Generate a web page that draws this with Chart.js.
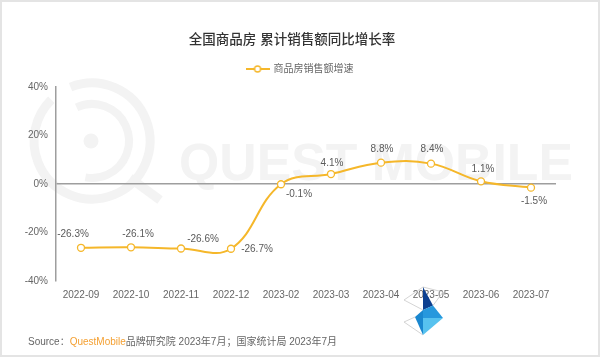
<!DOCTYPE html>
<html><head><meta charset="utf-8">
<script src="https://cdn.jsdelivr.net/npm/chart.js@4.4.0/dist/chart.umd.min.js"></script>
<style>html,body{margin:0;padding:0;background:#fff;}#wrap{width:600px;height:357px;position:relative;}</style>
</head><body><div id="wrap"><canvas id="c" width="600" height="357"></canvas></div>
<script>
const titleText = '全国商品房 累计销售额同比增长率';
const seriesName = '商品房销售额增速';
const categories = ['2022-09','2022-10','2022-11','2022-12','2023-02','2023-03','2023-04','2023-05','2023-06','2023-07'];
const growth = [-26.3, -26.1, -26.6, -26.7, -0.1, 4.1, 8.8, 8.4, 1.1, -1.5];
const yTicks = [-40, -20, 0, 20, 40];
const sourcePrefix = 'Source：';
const sourceBrand = 'QuestMobile';
const sourceRest = '品牌研究院 2023年7月；国家统计局 2023年7月';
const watermarkText = 'QUEST MOBILE';

const lineColor = '#F5B72A';
const FONT = '"Liberation Sans", "Noto Sans CJK SC", sans-serif';

// legend marker: line with hollow circle
const mk = document.createElement('canvas');
mk.width = 24; mk.height = 10;
(function(){
  const m = mk.getContext('2d');
  m.strokeStyle = lineColor; m.lineWidth = 2;
  m.beginPath(); m.moveTo(0,5); m.lineTo(24,5); m.stroke();
  m.beginPath(); m.arc(12,5,3,0,Math.PI*2); m.fillStyle='#fff'; m.fill();
  m.lineWidth = 1.4; m.stroke();
})();

const decor = {
  id: 'decor',
  beforeDraw(chart) {
    const ctx = chart.ctx;
    ctx.save();
    ctx.fillStyle = '#fff';
    ctx.fillRect(0, 0, chart.width, chart.height);
    // watermark
    const wm = '#f3f3f3';
    ctx.strokeStyle = wm; ctx.fillStyle = wm;
    ctx.lineWidth = 9;
    ctx.beginPath(); ctx.arc(92, 141, 58, -1.95, -2.35 + Math.PI*2); ctx.stroke();
    ctx.lineWidth = 8;
    ctx.beginPath(); ctx.arc(92, 141, 37, -2.0, 1.75); ctx.stroke();
    ctx.lineWidth = 9;
    ctx.beginPath(); ctx.moveTo(130, 178); ctx.lineTo(160, 200); ctx.stroke();
    ctx.beginPath(); ctx.arc(91, 141, 7.5, 0, Math.PI*2); ctx.fill();
    ctx.font = 'bold 52px "Liberation Sans", sans-serif';
    ctx.textBaseline = 'alphabetic';
    const w = ctx.measureText(watermarkText).width;
    ctx.translate(179, 180);
    ctx.scale(394 / w, 1);
    ctx.fillText(watermarkText, 0, 0);
    ctx.restore();
  },
  afterLayout(chart) {
    const tb = chart.titleBlock;
    if (tb) { tb.left += 6; tb.right += 6; }
    const lg = chart.legend;
    if (lg) { lg.left += 14; lg.right += 14; lg.top -= 3; lg.bottom -= 3; }
  },
  afterDatasetsDraw(chart, args, opts) {
    const ctx = chart.ctx;
    const meta = chart.getDatasetMeta(0);
    ctx.save();
    ctx.font = '10px ' + FONT;
    ctx.fillStyle = '#5a5a5a';
    ctx.textAlign = 'center';
    ctx.textBaseline = 'middle';
    meta.data.forEach((pt, i) => {
      const off = opts.labelOffsets[i] || [0, -13];
      ctx.fillText(growth[i].toFixed(1) + '%', pt.x + off[0], pt.y + off[1]);
    });
    ctx.restore();
  },
  afterDraw(chart) {
    const ctx = chart.ctx;
    ctx.save();
    // logo
    const poly = (pts, col) => { ctx.beginPath(); ctx.moveTo(pts[0][0], pts[0][1]); for (let k=1;k<pts.length;k++) ctx.lineTo(pts[k][0], pts[k][1]); ctx.closePath(); ctx.fillStyle = col; ctx.fill(); };
    ctx.strokeStyle = '#c9c9c9'; ctx.lineWidth = 0.8;
    ctx.beginPath();
    ctx.moveTo(423,287); ctx.lineTo(404,300); ctx.lineTo(423,310);
    ctx.moveTo(423,287); ctx.lineTo(443,292); ctx.lineTo(433,305.5);
    ctx.moveTo(415,317); ctx.lineTo(404,322); ctx.lineTo(423,335);
    ctx.stroke();
    poly([[423,287],[423,310],[433,305.5]], '#0c3f8f');
    poly([[415,317],[423,310],[423,335]], '#1a87cf');
    poly([[423,310],[433,305.5],[443,318],[423,318]], '#2798dd');
    poly([[423,318],[443,318],[423,335]], '#57c2ef');
    // source
    ctx.font = '10px ' + FONT;
    ctx.textBaseline = 'middle';
    ctx.textAlign = 'left';
    let x = 28; const y = 342;
    ctx.fillStyle = '#666';
    ctx.fillText(sourcePrefix, x, y); x += ctx.measureText(sourcePrefix).width;
    ctx.fillStyle = '#F4A032';
    ctx.fillText(sourceBrand, x, y); x += ctx.measureText(sourceBrand).width;
    ctx.fillStyle = '#666';
    ctx.fillText(sourceRest, x, y);
    // frame
    ctx.strokeStyle = '#e4e4e4'; ctx.lineWidth = 2;
    ctx.strokeRect(1, 1, chart.width - 2, chart.height - 2);
    ctx.restore();
  }
};

new Chart(document.getElementById('c'), {
  type: 'line',
  data: {
    labels: categories,
    datasets: [{
      label: seriesName,
      data: growth,
      borderColor: lineColor,
      backgroundColor: lineColor,
      borderWidth: 2,
      tension: 0.4,
      pointRadius: 3.5,
      pointBorderWidth: 1.3,
      pointBackgroundColor: '#fff',
      pointBorderColor: lineColor,
      clip: false
    }]
  },
  options: {
    responsive: false,
    devicePixelRatio: 1,
    animation: false,
    layout: { padding: { left: 16, right: 44, top: 0, bottom: 48 } },
    plugins: {
      title: {
        display: true, text: titleText, color: '#333',
        font: { size: 13.5, weight: '500', family: FONT },
        padding: { top: 32, bottom: 8.8 }
      },
      legend: {
        display: true,
        labels: {
          usePointStyle: true, pointStyleWidth: 22, padding: 10,
          color: '#666', font: { size: 10, family: FONT },
          generateLabels: (chart) => {
            const items = Chart.defaults.plugins.legend.labels.generateLabels(chart);
            items.forEach(it => { it.pointStyle = mk; });
            return items;
          }
        }
      },
      tooltip: { enabled: false },
      decor: {
        labelOffsets: [[-8,-14],[7,-13],[22,-9],[26,1],[18,10],[1,-11],[1,-13],[1,-14],[2,-12],[3,14]]
      }
    },
    scales: {
      x: {
        offset: true,
        grid: { display: false, drawTicks: false },
        border: { display: false },
        ticks: { color: '#666', font: { size: 10, family: FONT }, padding: 8, maxRotation: 0, autoSkip: false }
      },
      y: {
        min: -40, max: 40,
        afterFit: (s) => { s.width = 40; },
        afterBuildTicks: (s) => { s.ticks = yTicks.map(v => ({ value: v })); },
        grid: {
          drawTicks: false,
          color: (c) => (c.tick && c.tick.value === 0) ? '#9e9e9e' : 'rgba(0,0,0,0)',
          lineWidth: 1.5
        },
        border: { display: true, color: '#9e9e9e', width: 1.5 },
        ticks: { color: '#666', font: { size: 10, family: FONT }, padding: 8, callback: (v) => v + '%' }
      }
    }
  },
  plugins: [decor]
});
</script>
</body></html>
